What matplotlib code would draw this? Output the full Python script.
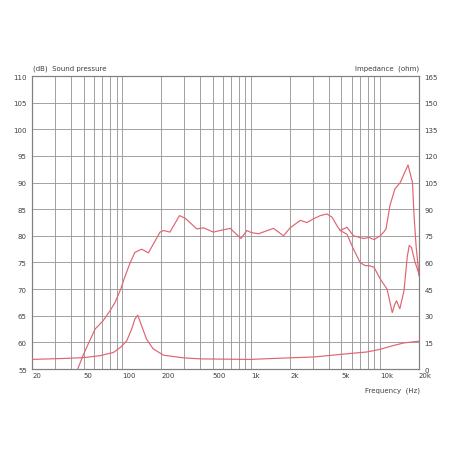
import matplotlib
matplotlib.use("Agg")
import matplotlib.pyplot as plt
import numpy as np

# Sound pressure (dB), common part up to ~5 kHz
spl_freq = [45, 50, 61.4, 71, 80, 87.7, 97, 103, 115, 125, 141, 159, 196, 208, 234, 277, 307,
            378, 426, 508, 573, 686, 830, 925, 1000, 1140, 1486, 1778, 2000, 2400, 2700,
            3040, 3430, 3860, 4230, 4620, 4900]
spl_db = [55, 57.8, 62.5, 64.1, 65.9, 67.5, 70, 71.9, 75.0, 76.9, 77.5, 76.8, 80.7, 81.0, 80.7,
          83.8, 83.3, 81.3, 81.5, 80.7, 81.0, 81.4, 79.5, 81.0, 80.6, 80.4, 81.4, 80.0, 81.5,
          82.9, 82.5, 83.2, 83.8, 84.1, 83.5, 81.9, 81.0]

# On-axis branch above 5 kHz
on_freq = [5520, 6210, 7450, 8200, 8960, 10000, 10650, 11100, 11900, 13000, 14300, 16440,
           17800, 18300, 19000, 20000]
on_db = [81.6, 80.0, 79.5, 79.7, 79.3, 80.0, 80.7, 81.3, 85.7, 88.8, 90.0, 93.3,
         90.0, 83.8, 78.0, 72.5]

# Off-axis branch above 5 kHz
off_freq = [5520, 6210, 6980, 7640, 8200, 8960, 10000, 11300, 12400, 13000, 13400, 14200,
            15300, 16200, 16800, 17500, 18500, 20000]
off_db = [80.3, 77.5, 75.0, 74.4, 74.4, 74.1, 71.9, 70.0, 65.6, 67.2, 67.8, 66.3,
          69.7, 76.0, 78.2, 77.8, 75.3, 72.8]

# Impedance (ohm)
imp_freq = [20, 37, 50, 67, 85, 97, 108, 118, 125, 131.6, 141, 154, 173, 208, 297, 400, 974,
            2000, 3030, 5200, 7900, 10000, 12600, 15300, 19700, 20000]
imp_ohm = [5.4, 6.0, 6.4, 7.5, 9.3, 12.3, 15.9, 22.5, 28.2, 30.3, 24.3, 16.8, 11.4, 7.8, 6.3,
           5.7, 5.4, 6.3, 6.75, 8.4, 9.6, 11.1, 13.2, 14.7, 15.6, 15.6]

db_ticks = list(range(55, 111, 5))
ohm_ticks = list(range(0, 166, 15))
x_ticks = [20, 50, 100, 200, 500, 1000, 2000, 5000, 10000, 20000]
x_labels = ["20", "50", "100", "200", "500", "1k", "2k", "5k", "10k", "20k"]

red = "#df6470"
grid_c = "#9a9a9a"
txt_c = "#404040"
fs = 5

fig = plt.figure(figsize=(4.52, 4.52), dpi=100)
ax = fig.add_axes([0.0715, 0.1814, 0.8555, 0.6482])
ax.set_xscale("log")
ax.set_xlim(20, 20000)
ax.set_ylim(55, 110)

# grid lines
grid_x = [v * m for m in (10, 100, 1000) for v in range(2, 10) if 20 < v * m < 20000] + [100, 1000, 10000]
for gx in sorted(set(grid_x)):
    ax.axvline(gx, color=grid_c, lw=0.65, zorder=1)
for gy in db_ticks[1:-1]:
    ax.axhline(gy, color=grid_c, lw=0.65, zorder=1)

ax2 = ax.twinx()
ax2.set_ylim(0, 165)

ax.plot(spl_freq + on_freq, spl_db + on_db, color=red, lw=0.85, zorder=3)
ax.plot([4900] + off_freq, [81.0] + off_db, color=red, lw=0.85, zorder=3)
ax2.plot(imp_freq, imp_ohm, color=red, lw=0.85, zorder=3)

ax.set_yticks(db_ticks)
ax.set_yticklabels([str(v) for v in db_ticks], fontsize=fs, color=txt_c)
ax2.set_yticks(ohm_ticks)
ax2.set_yticklabels([str(v) for v in ohm_ticks], fontsize=fs, color=txt_c)
ax.set_xticks(x_ticks)
ax.set_xticklabels(x_labels, fontsize=fs, color=txt_c, ha="left")
ax.xaxis.set_minor_locator(matplotlib.ticker.NullLocator())
ax.tick_params(axis="x", length=0, pad=2)
ax.tick_params(axis="y", length=0, pad=4)
ax2.tick_params(axis="y", length=0, pad=4)
for sp in list(ax.spines.values()) + list(ax2.spines.values()):
    sp.set_color("#808080")
    sp.set_linewidth(0.8)

fig.text(0.0735, 0.840, "(dB)  Sound pressure", fontsize=fs, color=txt_c, ha="left", va="bottom")
fig.text(0.927, 0.840, "Impedance  (ohm)", fontsize=fs, color=txt_c, ha="right", va="bottom")
fig.text(0.93, 0.143, "Frequency  (Hz)", fontsize=fs, color=txt_c, ha="right", va="top")

fig.savefig("out.png", dpi=100, facecolor="white")
